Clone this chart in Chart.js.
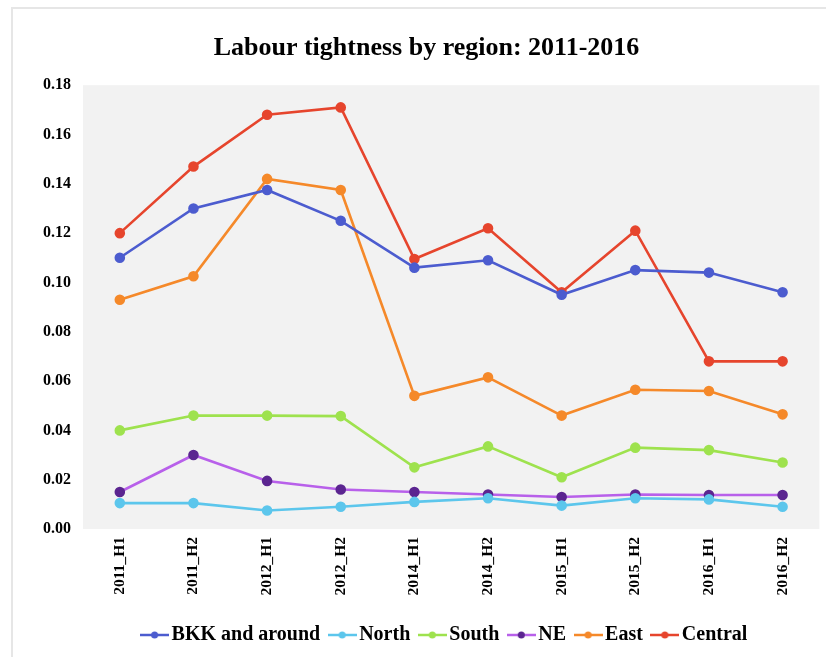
<!DOCTYPE html>
<html>
<head>
<meta charset="utf-8">
<script src="https://cdn.jsdelivr.net/npm/chart.js@4.4.1/dist/chart.umd.min.js"></script>
<style>
  html, body { margin: 0; padding: 0; background: #fff; }
  #wrap { position: relative; width: 826px; height: 657px; overflow: hidden; }
  #frame { position: absolute; left: 11px; top: 7px; width: 830px; height: 700px; border: 2px solid #e6e6e6; box-sizing: border-box; pointer-events: none; }
</style>
</head>
<body>
<div id="wrap">
  <div id="frame"></div>
  <canvas id="chart" width="826" height="657"></canvas>
</div>
<script>
// Periods on the x axis
const periods = ['2011_H1', '2011_H2', '2012_H1', '2012_H2', '2014_H1', '2014_H2', '2015_H1', '2015_H2', '2016_H1', '2016_H2'];

// Labour tightness per region
const bkk     = [0.110, 0.130, 0.1375, 0.125, 0.106, 0.109, 0.095, 0.105, 0.104, 0.096];
const north   = [0.0105, 0.0105, 0.0075, 0.009, 0.011, 0.0125, 0.0095, 0.0125, 0.012, 0.009];
const south   = [0.040, 0.046, 0.046, 0.0458, 0.025, 0.0335, 0.021, 0.033, 0.032, 0.027];
const ne      = [0.015, 0.030, 0.0195, 0.016, 0.015, 0.014, 0.013, 0.014, 0.0138, 0.0138];
const east    = [0.093, 0.1025, 0.142, 0.1375, 0.054, 0.0615, 0.046, 0.0565, 0.056, 0.0465];
const central = [0.120, 0.147, 0.168, 0.171, 0.1095, 0.122, 0.096, 0.121, 0.068, 0.068];

const yTicks = [0, 0.02, 0.04, 0.06, 0.08, 0.10, 0.12, 0.14, 0.16, 0.18];

const serif = '"Liberation Serif", "DejaVu Serif", serif';

// little "line with dot" marker for the legend
function legendMark(color, dot) {
    const c = document.createElement('canvas');
    c.width = 29; c.height = 10;
    const g = c.getContext('2d');
    g.strokeStyle = color;
    g.lineWidth = 2.5;
    g.beginPath(); g.moveTo(0, 5); g.lineTo(29, 5); g.stroke();
    g.fillStyle = dot;
    g.beginPath(); g.arc(14.5, 5, 3.5, 0, Math.PI * 2); g.fill();
    return c;
}

function series(label, data, color, dot) {
    return {
        label: label,
        data: data,
        borderColor: color,
        backgroundColor: dot || color,
        pointBackgroundColor: dot || color,
        pointBorderColor: dot || color,
        borderWidth: 2.6,
        pointRadius: 4,
        tension: 0,
        fill: false,
        mark: legendMark(color, dot || color)
    };
}

// gray plot area
const plotBg = {
    id: 'plotBg',
    beforeDraw(chart) {
        const a = chart.chartArea;
        const ctx = chart.ctx;
        ctx.save();
        ctx.fillStyle = '#f2f2f2';
        ctx.fillRect(a.left, a.top, a.right - a.left, a.bottom - a.top);
        ctx.restore();
    }
};

// legend sits a bit right of the title in the original
const shiftLegend = {
    id: 'shiftLegend',
    afterLayout(chart) {
        chart.legend.left += 21;
        chart.legend.right += 21;
    }
};

const ctx = document.getElementById('chart').getContext('2d');
new Chart(ctx, {
    type: 'line',
    data: {
        labels: periods,
        datasets: [
            series('BKK and around', bkk, '#4c5ccf'),
            series('North', north, '#5cc6ec'),
            series('South', south, '#9ee24e'),
            series('NE', ne, '#b860ea', '#5b2590'),
            series('East', east, '#f5892a'),
            series('Central', central, '#e6452d')
        ]
    },
    options: {
        responsive: false,
        animation: false,
        layout: {
            padding: { left: 30, right: 3, top: 19, bottom: 2 }
        },
        plugins: {
            title: {
                display: true,
                text: 'Labour tightness by region: 2011-2016',
                color: '#000',
                font: { family: serif, size: 26, weight: 'bold' },
                padding: { top: 14, bottom: 21 }
            },
            legend: {
                position: 'bottom',
                labels: {
                    color: '#000',
                    font: { family: serif, size: 20, weight: 'bold' },
                    usePointStyle: true,
                    pointStyleWidth: 14,
                    padding: 15,
                    generateLabels(chart) {
                        return chart.data.datasets.map((ds, i) => ({
                            text: ds.label,
                            pointStyle: ds.mark,
                            fillStyle: ds.borderColor,
                            strokeStyle: ds.borderColor,
                            fontColor: '#000',
                            lineWidth: 0,
                            hidden: false,
                            datasetIndex: i
                        }));
                    }
                }
            },
            tooltip: { enabled: false }
        },
        scales: {
            x: {
                offset: true,
                grid: { display: false, drawTicks: false, tickLength: 0 },
                border: { display: false },
                afterFit(axis) { axis.height = 81; },
                ticks: {
                    color: '#000',
                    font: { family: serif, size: 15.5, weight: 'bold' },
                    minRotation: 90,
                    maxRotation: 90,
                    padding: 8
                }
            },
            y: {
                min: 0,
                max: 0.18,
                grid: { display: false, drawTicks: false, tickLength: 0 },
                border: { display: false },
                afterFit(axis) { axis.width = 53; },
                afterBuildTicks(axis) {
                    axis.ticks = yTicks.map(v => ({ value: v }));
                },
                ticks: {
                    color: '#000',
                    font: { family: serif, size: 16, weight: 'bold' },
                    padding: 12,
                    callback: v => v.toFixed(2)
                }
            }
        }
    },
    plugins: [plotBg, shiftLegend]
});
</script>
</body>
</html>
